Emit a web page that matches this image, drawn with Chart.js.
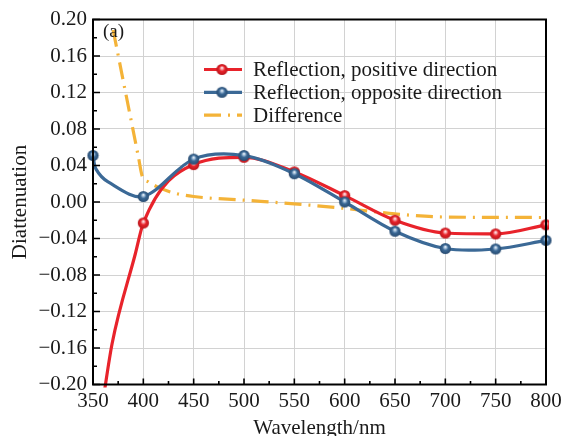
<!DOCTYPE html>
<html><head><meta charset="utf-8">
<script src="https://cdn.jsdelivr.net/npm/chart.js@4.4.0/dist/chart.umd.min.js"></script>
<style>html,body{margin:0;padding:0;background:#fff}#wrap{width:566px;height:436px}</style>
</head><body><div id="wrap"><canvas id="c" width="566" height="436"></canvas></div>
<script>
const xTicks=[350,400,450,500,550,600,650,700,750,800];
const xMinor=[375,425,475,525,575,625,675,725,775];
const yTicks=[-0.20,-0.16,-0.12,-0.08,-0.04,0.00,0.04,0.08,0.12,0.16,0.20];
const yMinor=[-0.18,-0.14,-0.10,-0.06,-0.02,0.02,0.06,0.10,0.14,0.18];
const redX=[350,360,369,392,400,450,500,550,600,650,700,750,800];
const redY=[-0.285,-0.217,-0.155,-0.057,-0.023,0.041,0.049,0.033,0.007,-0.020,-0.034,-0.035,-0.025];
const blueX=[350,353,365,400,450,500,550,600,650,700,750,800];
const blueY=[0.051,0.036,0.022,0.006,0.047,0.051,0.031,0.000,-0.032,-0.051,-0.0515,-0.042];
const diffX=[370,395,399,405,415,430,450,500,550,600,650,700,750,800];
const diffY=[0.1885,0.050,0.028,0.022,0.016,0.010,0.006,0.002,-0.002,-0.007,-0.013,-0.0165,-0.0168,-0.017];
const seriesLabels=['Reflection, positive direction','Reflection, opposite direction','Difference'];
const panelLabel='(a)';
const xTitle='Wavelength/nm';
const yTitle='Diattenuation';

const FONT='"Liberation Serif","Times New Roman",serif';
const TXT='#1a1a1a';
const RED='#e8232b', RED_DARK='#b8161c', RED_LIGHT='#f7a9ae';
const BLUE='#3b6996', BLUE_DARK='#284b70', BLUE_LIGHT='#a9c3dc';
const ORANGE='#f4b338';
const DASH=[17,7,2,7];

function sphere(color,dark,light){
  const s=13,r=5.6;const c=document.createElement('canvas');c.width=s;c.height=s;
  const g=c.getContext('2d');
  const grd=g.createRadialGradient(s/2,s/2-1.8,0,s/2,s/2,r);
  grd.addColorStop(0,'#ffffff');grd.addColorStop(0.22,light);grd.addColorStop(0.5,color);grd.addColorStop(1,dark);
  g.fillStyle=grd;g.beginPath();g.arc(s/2,s/2,r,0,Math.PI*2);g.fill();
  return c;
}
const redBall=sphere(RED,RED_DARK,RED_LIGHT), blueBall=sphere(BLUE,BLUE_DARK,BLUE_LIGHT);
const markR=c=>(c.raw && c.raw.x%50===0)?5.5:0;
const fmtY=v=>(v<0?'\u2212':'')+Math.abs(v).toFixed(2);

const decor={id:'decor',afterDatasetsDraw(chart){
  const {ctx,chartArea:a,scales:{x,y}}=chart;
  ctx.save();
  ctx.strokeStyle='#000';ctx.lineWidth=2;
  ctx.strokeRect(a.left,a.top,a.right-a.left,a.bottom-a.top);
  ctx.lineWidth=1.6;ctx.beginPath();
  xTicks.forEach(v=>{const p=x.getPixelForValue(v);ctx.moveTo(p,a.bottom);ctx.lineTo(p,a.bottom-6);});
  xMinor.forEach(v=>{const p=x.getPixelForValue(v);ctx.moveTo(p,a.bottom);ctx.lineTo(p,a.bottom-3.5);});
  yTicks.forEach(v=>{const p=y.getPixelForValue(v);ctx.moveTo(a.left,p);ctx.lineTo(a.left+7,p);});
  yMinor.forEach(v=>{const p=y.getPixelForValue(v);ctx.moveTo(a.left,p);ctx.lineTo(a.left+4,p);});
  ctx.stroke();
  ctx.fillStyle=TXT;ctx.font='19px '+FONT;ctx.textBaseline='middle';ctx.textAlign='left';
  ctx.fillText(panelLabel,a.left+10,a.top+13);
  const lx=a.left+111, ly=a.top+50, dy=22.8;
  ctx.font='21px '+FONT;
  chart.data.datasets.forEach((ds,i)=>{
    const yy=ly+i*dy;
    ctx.save();ctx.strokeStyle=ds.borderColor;ctx.lineWidth=ds.borderWidth;
    ctx.setLineDash(ds.borderDash||[]);ctx.beginPath();ctx.moveTo(lx,yy);ctx.lineTo(lx+38,yy);ctx.stroke();ctx.restore();
    if(ds.pointStyle && typeof ds.pointStyle==='object'){const b=ds.pointStyle;ctx.drawImage(b,lx+18-b.width/2,yy-b.height/2);}
    ctx.fillStyle=TXT;ctx.fillText(ds.label,lx+49,yy+1);
  });
  ctx.restore();
}};

new Chart(document.getElementById('c'),{
  type:'line',
  data:{datasets:[
    {label:seriesLabels[0],data:redX.map((v,i)=>({x:v,y:redY[i]})),borderColor:RED,borderWidth:3.2,cubicInterpolationMode:'monotone',pointStyle:redBall,pointRadius:markR,clip:3,order:2},
    {label:seriesLabels[1],data:blueX.map((v,i)=>({x:v,y:blueY[i]})),borderColor:BLUE,borderWidth:3.2,tension:0.32,pointStyle:blueBall,pointRadius:markR,clip:6,order:1},
    {label:seriesLabels[2],data:diffX.map((v,i)=>({x:v,y:diffY[i]})),borderColor:ORANGE,borderWidth:3.2,borderDash:DASH,cubicInterpolationMode:'monotone',pointRadius:0,clip:2,order:3}
  ]},
  options:{
    responsive:false,animation:false,events:[],
    layout:{padding:{top:19.5,right:20,left:0,bottom:0}},
    plugins:{legend:{display:false},tooltip:{enabled:false}},
    scales:{
      x:{type:'linear',min:350,max:800,
        afterBuildTicks:s=>{s.ticks=xTicks.map(v=>({value:v}));},
        ticks:{font:{family:FONT,size:21},color:TXT,padding:4,maxRotation:0,autoSkip:false,callback:v=>String(v)},
        grid:{color:'#d2d2d2',lineWidth:1,drawTicks:false},border:{display:false},
        title:{display:true,text:xTitle,font:{family:FONT,size:21},color:TXT,padding:{top:0,bottom:-5}},
        afterFit:s=>{s.height=51.5;}},
      y:{type:'linear',min:-0.2,max:0.2,
        afterBuildTicks:s=>{s.ticks=yTicks.map(v=>({value:v}));},
        ticks:{font:{family:FONT,size:21},color:TXT,padding:6,autoSkip:false,callback:v=>fmtY(v)},
        grid:{color:'#d2d2d2',lineWidth:1,drawTicks:false},border:{display:false},
        title:{display:true,text:yTitle,font:{family:FONT,size:21},color:TXT,padding:{top:8,bottom:0}},
        afterFit:s=>{s.width=93;}}
    }
  },
  plugins:[decor]
});
</script></body></html>
